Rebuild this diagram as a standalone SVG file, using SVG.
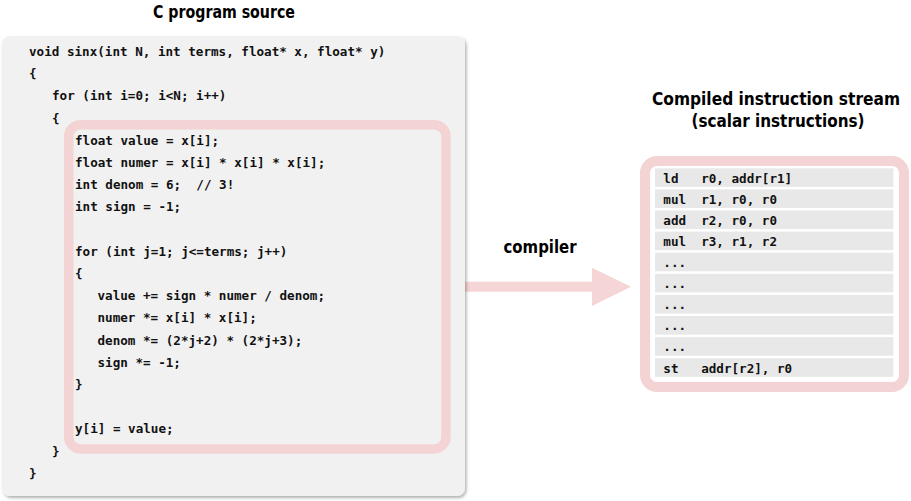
<svg xmlns="http://www.w3.org/2000/svg" width="911" height="501" viewBox="0 0 911 501">
<style>
.title{font-family:"DejaVu Sans Condensed","DejaVu Sans",sans-serif;font-weight:bold;font-size:18px;fill:#000;text-anchor:middle}
.code{font-family:"DejaVu Sans Mono","Liberation Mono",monospace;font-weight:bold;font-size:12.6px;fill:#111;white-space:pre}
.pink{fill:none;stroke:#f3d3d3}
.row{fill:#e8e8e8}
</style>
<defs>
<filter id="sh" x="-5%" y="-5%" width="110%" height="110%">
<feDropShadow dx="1.5" dy="2" stdDeviation="1.5" flood-color="#000" flood-opacity="0.3"/>
</filter>
</defs>
<g id="connectors">
<rect x="455" y="281.7" width="138" height="10" fill="#f5d5d5"/>
<polygon points="592,267.7 631,286.7 592,306" fill="#f5d5d5"/>
<text class="title" x="540" y="253" textLength="73" lengthAdjust="spacingAndGlyphs">compiler</text>
</g>
<g id="source">
<text class="title" x="224" y="18" textLength="142" lengthAdjust="spacingAndGlyphs">C program source</text>
<rect x="2" y="36" width="463" height="460" rx="8" fill="#f1f1f1" filter="url(#sh)"/>
<rect class="pink" x="68.7" y="124.7" width="377.3" height="324.3" rx="12" stroke-width="9.5"/>
<text class="code" x="29" y="56">void sinx(int N, int terms, float* x, float* y)</text>
<text class="code" x="29" y="78.2">{</text>
<text class="code" x="52" y="100.4">for (int i=0; i&lt;N; i++)</text>
<text class="code" x="52" y="122.6">{</text>
<text class="code" x="75" y="144.8">float value = x[i];</text>
<text class="code" x="75" y="167">float numer = x[i] * x[i] * x[i];</text>
<text class="code" x="75" y="189.2">int denom = 6;  // 3!</text>
<text class="code" x="75" y="211.4">int sign = -1;</text>
<text class="code" x="75" y="255.8">for (int j=1; j&lt;=terms; j++)</text>
<text class="code" x="75" y="278">{</text>
<text class="code" x="97.5" y="300.2">value += sign * numer / denom;</text>
<text class="code" x="97.5" y="322.4">numer *= x[i] * x[i];</text>
<text class="code" x="97.5" y="344.6">denom *= (2*j+2) * (2*j+3);</text>
<text class="code" x="97.5" y="366.8">sign *= -1;</text>
<text class="code" x="75" y="389">}</text>
<text class="code" x="75" y="433.4">y[i] = value;</text>
<text class="code" x="52" y="455.6">}</text>
<text class="code" x="29" y="477.8">}</text>
</g>
<g id="stream">
<text class="title" x="776" y="105" textLength="248" lengthAdjust="spacingAndGlyphs">Compiled instruction stream</text>
<text class="title" x="778" y="127" textLength="173" lengthAdjust="spacingAndGlyphs">(scalar instructions)</text>
<rect x="645" y="161" width="259" height="226" rx="12" fill="#fff" stroke="#f3d3d3" stroke-width="10"/>
<rect class="row" x="655" y="168.3" width="238.3" height="18.6"/>
<rect class="row" x="655" y="189.4" width="238.3" height="18.6"/>
<rect class="row" x="655" y="210.5" width="238.3" height="18.6"/>
<rect class="row" x="655" y="231.6" width="238.3" height="18.6"/>
<rect class="row" x="655" y="252.7" width="238.3" height="18.6"/>
<rect class="row" x="655" y="273.8" width="238.3" height="18.6"/>
<rect class="row" x="655" y="294.9" width="238.3" height="18.6"/>
<rect class="row" x="655" y="316" width="238.3" height="18.6"/>
<rect class="row" x="655" y="337.1" width="238.3" height="18.6"/>
<rect class="row" x="655" y="358.2" width="238.3" height="18.6"/>
<text class="code" x="663.3" y="182.6">ld   r0, addr[r1]</text>
<text class="code" x="663.3" y="203.7">mul  r1, r0, r0</text>
<text class="code" x="663.3" y="224.8">add  r2, r0, r0</text>
<text class="code" x="663.3" y="245.9">mul  r3, r1, r2</text>
<text class="code" x="663.3" y="267">...</text>
<text class="code" x="663.3" y="288.1">...</text>
<text class="code" x="663.3" y="309.2">...</text>
<text class="code" x="663.3" y="330.3">...</text>
<text class="code" x="663.3" y="351.4">...</text>
<text class="code" x="663.3" y="372.5">st   addr[r2], r0</text>
</g>
</svg>
